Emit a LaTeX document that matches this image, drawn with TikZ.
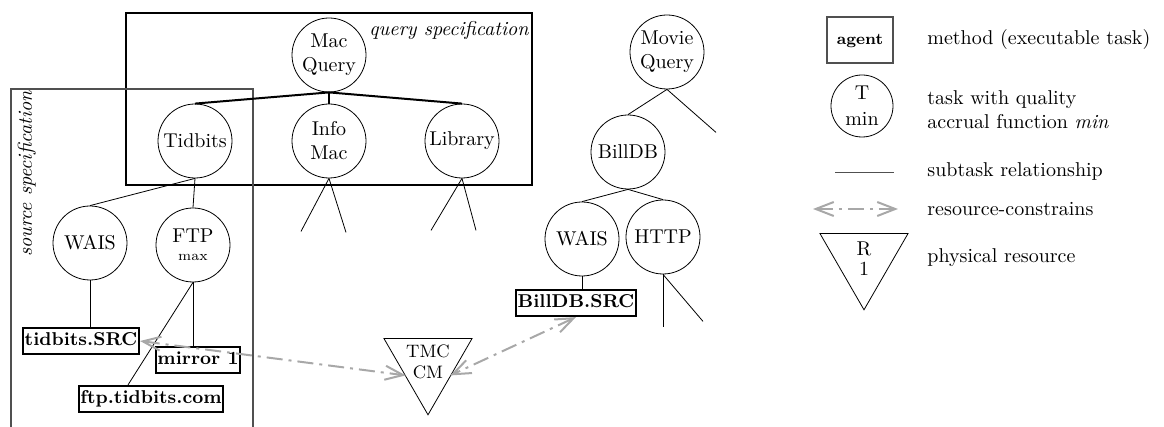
\documentclass[tikz,border=0pt]{standalone}
\usepackage{tikz}
\usetikzlibrary{arrows.meta,shapes.geometric}
\definecolor{constraint}{HTML}{A8A8A8}
\definecolor{framegray}{HTML}{505050}

\begin{document}
\begin{tikzpicture}[
    x=0.5pt, y=-0.5pt,
    task/.style={draw, circle, inner sep=0pt, minimum size=37pt, align=center},
    meth/.style={draw, line width=1.1pt, inner xsep=0.8pt, inner ysep=2pt,
                 text height=7pt, text depth=2pt, font=\fontsize{9.3}{11}\selectfont\bfseries},
    res/.style={draw, regular polygon, regular polygon sides=3, shape border rotate=180,
                inner sep=0pt, minimum size=50.8pt},
    subln/.style={line width=0.4pt},
    specln/.style={line width=1pt},
    arr/.style={{Straight Barb[length=9pt,width=7pt]}-{Straight Barb[length=9pt,width=7pt]},
                line width=1pt, constraint, dash pattern=on 8pt off 3pt on 1.5pt off 3pt},
    legtext/.style={anchor=west, inner sep=0pt, align=left}
  ]
    \useasboundingbox (0,0) rectangle (1164,427);

    % specification frames
    \draw[specln] (126,13) rectangle (532,185);
    \node[anchor=east, inner sep=0pt, font=\itshape] (qspec) at (529,31) {query specification};
    \draw[framegray, line width=0.6pt] (11,440) -- (11,89) -- (253,89) -- (253,440);
    \node[rotate=90, inner sep=0pt, font=\itshape] (sspec) at (27,174) {source specification};

    % Mac query tree
    \node[task] (mq) at (329,55) {Mac\\Query};
    \node[task] (tid) at (195,141) {Tidbits};
    \node[task] (im) at (329,141) {Info\\Mac};
    \node[task] (lib) at (462,141) {Library};
    \node[task] (wais) at (90,243) {WAIS};
    \node[task] (ftp) at (193,245) {FTP\\[-3pt]{\scriptsize max}};
    \node[meth] (tsrc) at (81,341) {tidbits.SRC};
    \node[meth] (mirror) at (198,360) {mirror 1};
    \node[meth] (ftpcom) at (151,399) {ftp.tidbits.com};

    \draw[specln] (mq.south) -- (tid.north);
    \draw[specln] (mq.south) -- (im.north);
    \draw[specln] (mq.south) -- (lib.north);
    \draw[subln] (im.south) -- ++(-28,53);
    \draw[subln] (im.south) -- ++(17,54);
    \draw[subln] (lib.south) -- ++(-31,52);
    \draw[subln] (lib.south) -- ++(14,52);
    \draw[subln] (tid.south) -- (wais.north);
    \draw[subln] (tid.south) -- (ftp.north);
    \draw[subln] (wais.south) -- (wais.south |- tsrc.north);
    \draw[subln] (ftp.south) -- (ftp.south |- mirror.north);
    \draw[subln] (ftp.south) -- ([xshift=-11.5pt]ftpcom.north);

    % Movie query tree
    \node[task] (mv) at (667,52) {Movie\\Query};
    \node[task] (bdb) at (628,152) {BillDB};
    \node[task] (wais2) at (582,239) {WAIS};
    \node[task] (http) at (663,237) {HTTP};
    \node[meth] (bsrc) at (576,303) {BillDB.SRC};

    \draw[subln] (mv.south) -- (bdb.north);
    \draw[subln] (mv.south) -- ++(49,43);
    \draw[subln] (bdb.south) -- (wais2.north);
    \draw[subln] (bdb.south) -- (http.north);
    \draw[subln] (wais2.south) -- (wais2.south |- bsrc.north);
    \draw[subln] (http.south) -- ++(0,53);
    \draw[subln] (http.south) -- ++(40,47);

    % shared resource
    \node[res] (tmc) at (428,364) {};
    \node[inner sep=0pt, align=center, font=\fontsize{9}{10.5}\selectfont] (tmctxt) at (428,362) {TMC\\CM};
    \draw[arr] (tsrc.east) -- ([yshift=2pt]tmctxt.south west);
    \draw[arr] (bsrc.south) -- ([yshift=2pt]tmctxt.south east);

    % legend
    \node[meth, draw=framegray, line width=0.6pt, minimum width=33pt, minimum height=23pt,
          font=\fontsize{8}{9}\selectfont\bfseries] (lgagent) at (860,40) {agent};
    \node[task, minimum size=31pt] (lgtask) at (862,106) {T\\[1pt]min};
    \coordinate (lgsubL) at (835,172);
    \coordinate (lgsubR) at (894,172);
    \draw[subln, framegray] (lgsubL) -- (lgsubR);
    \coordinate (lgarrL) at (813,209);
    \coordinate (lgarrR) at (898,209);
    \draw[arr] (lgarrL) -- (lgarrR);
    \node[res] (lgres) at (864,259) {};
    \node[inner sep=0pt, align=center] (lgrestxt) at (lgres.center) {R\\[-2pt]1};

    \node[legtext] (lgagenttxt) at (927,40) {method (executable task)};
    \node[legtext] (lgtasktxt) at (927,110) {task with quality\\accrual function \emph{min}};
    \node[legtext] (lgsubtxt) at (927,172) {subtask relationship};
    \node[legtext] (lgarrtxt) at (927,209) {resource-constrains};
    \node[legtext] (lgrestxt2) at (927,258) {physical resource};
  \end{tikzpicture}
\end{document}
